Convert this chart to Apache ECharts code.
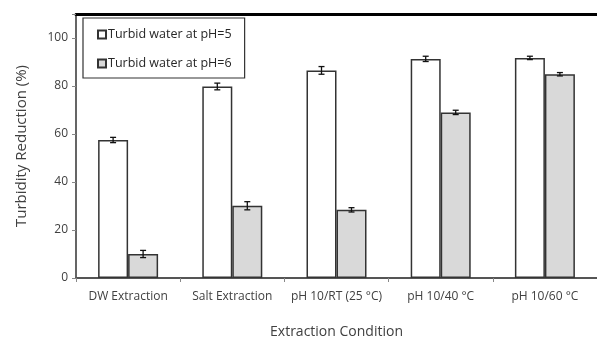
<!DOCTYPE html>
<html><head><meta charset="utf-8">
<script src="https://cdn.jsdelivr.net/npm/echarts@6/dist/echarts.min.js"></script>
<style>html,body{margin:0;padding:0;background:#fff}#c{width:597px;height:340px}</style>
</head><body><div id="c"></div>
<script>
const categories = ['DW Extraction','Salt Extraction','pH 10/RT (25 °C)','pH 10/40 °C','pH 10/60 °C'];
const seriesNames = ['Turbid water at pH=5','Turbid water at pH=6'];
const ph5Values = [57.5, 79.8, 86.5, 91.3, 91.7];
const ph6Values = [10.0, 30.1, 28.4, 69.0, 84.9];
const ph5Errors = [1.1, 1.4, 1.6, 1.1, 0.7];
const ph6Errors = [1.5, 1.7, 0.9, 0.9, 0.7];
const yTicks = [0, 20, 40, 60, 80, 100];

const font = 'Open Sans';
const textColor = '#404040';
const BAR_W = 30;

function errData(vals, errs){ return vals.map((v,i)=>[i, v, errs[i]]); }
function errRender(offset){
  return function(params, api){
    const idx = api.value(0), v = api.value(1), e = api.value(2);
    const top = api.coord([idx, v + e]);
    const bot = api.coord([idx, v - e]);
    const x = top[0] + offset;
    const cap = 3;
    const style = {stroke:'#111', lineWidth:1.3};
    return {type:'group', children:[
      {type:'line', shape:{x1:x,y1:top[1],x2:x,y2:bot[1]}, style},
      {type:'line', shape:{x1:x-cap,y1:top[1],x2:x+cap,y2:top[1]}, style},
      {type:'line', shape:{x1:x-cap,y1:bot[1],x2:x+cap,y2:bot[1]}, style}
    ]};
  };
}

const chart = echarts.init(document.getElementById('c'), null, {renderer:'canvas'});
chart.setOption({
  animation:false,
  backgroundColor:'#fff',
  grid:{left:76, right:0, top:14, bottom:62, containLabel:false, outerBoundsMode:'none'},
  legend:{
    orient:'vertical', left:83, top:18,
    data:seriesNames,
    itemWidth:8, itemHeight:8, itemGap:16,
    padding:[10,13,8,14],
    borderColor:'#333', borderWidth:1.2,
    icon:'rect',
    textStyle:{fontFamily:font, fontSize:12.5, color:'#262626', padding:[0,0,0,-3]}
  },
  xAxis:[{
    type:'category', data:categories,
    axisLine:{lineStyle:{color:'#555', width:1.8}},
    axisTick:{show:true, length:4, lineStyle:{color:'#888'}},
    axisLabel:{fontFamily:font, fontSize:12, color:textColor, margin:13, interval:0},
    name:'Extraction Condition', nameLocation:'middle', nameGap:47,
    nameTextStyle:{fontFamily:font, fontSize:14, color:textColor}
  },{
    type:'category', data:categories, position:'top',
    axisLine:{lineStyle:{color:'#000', width:3}},
    axisTick:{show:false}, axisLabel:{show:false}
  }],
  yAxis:{
    type:'value', min:0, max:110, interval:20,
    axisLine:{show:true, lineStyle:{color:'#555', width:1.8}},
    axisTick:{show:true, length:4, lineStyle:{color:'#888'}},
    splitLine:{show:false},
    axisLabel:{fontFamily:font, fontSize:12, color:textColor, margin:8,
      formatter:v=> yTicks.indexOf(v) >= 0 ? String(v) : ''},
    name:'Turbidity Reduction (%)', nameLocation:'middle', nameGap:47,
    nameTextStyle:{fontFamily:font, fontSize:15, color:textColor}
  },
  series:[
    {name:seriesNames[0], type:'bar', data:ph5Values, barWidth:BAR_W, barGap:'0%',
     itemStyle:{color:'#ffffff', borderColor:'#333', borderWidth:1.5}},
    {name:seriesNames[1], type:'bar', data:ph6Values, barWidth:BAR_W, barGap:'0%',
     itemStyle:{color:'#d9d9d9', borderColor:'#333', borderWidth:1.5}},
    {type:'custom', data:errData(ph5Values, ph5Errors), renderItem:errRender(-BAR_W/2),
     encode:{x:0,y:1}, z:5, silent:true},
    {type:'custom', data:errData(ph6Values, ph6Errors), renderItem:errRender(BAR_W/2),
     encode:{x:0,y:1}, z:5, silent:true}
  ]
});
</script></body></html>
